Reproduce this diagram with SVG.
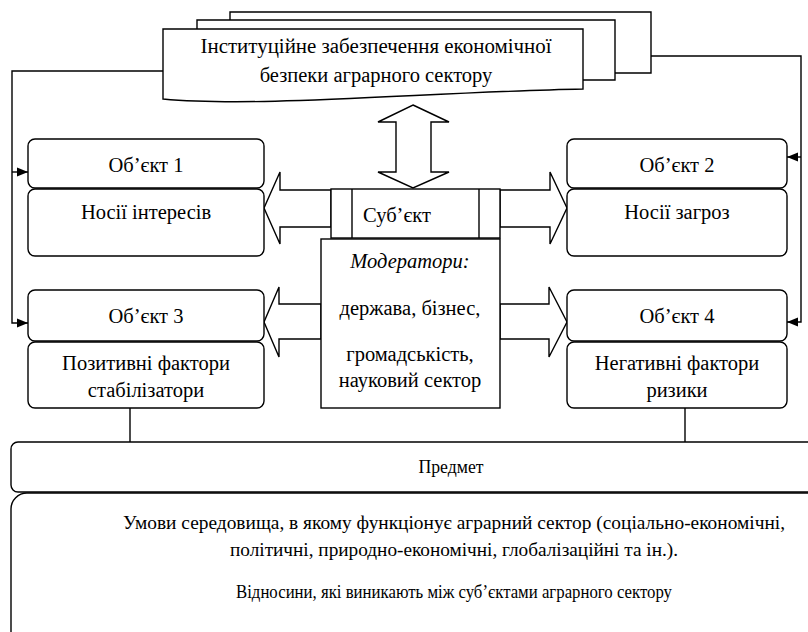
<svg xmlns="http://www.w3.org/2000/svg" width="808" height="632" viewBox="0 0 808 632">
<defs>
<marker id="ah" viewBox="0 0 10 10" refX="10" refY="5" markerWidth="11" markerHeight="11" markerUnits="userSpaceOnUse" orient="auto">
<path d="M0,1 L10,5 L0,9 Z" fill="#000"/>
</marker>
<style>
.s{fill:#fff;stroke:#000;stroke-width:1.4}
.l{fill:none;stroke:#000;stroke-width:1.4}
text{font-family:"Liberation Serif","Times New Roman",serif;font-size:20.5px;fill:#000;text-anchor:middle}
.c{font-size:19px}
</style>
</defs>
<rect width="808" height="632" fill="#fff"/>
<g id="connectors">
<polyline class="l" points="163,71 12,71 12,323 28,323" marker-end="url(#ah)"/>
<line class="l" x1="12" y1="172" x2="28" y2="172" marker-end="url(#ah)"/>
<polyline class="l" points="651,56 801,56 801,322 787,322" marker-end="url(#ah)"/>
<line class="l" x1="801" y1="157" x2="787" y2="157" marker-end="url(#ah)"/>
<line class="l" x1="130" y1="408" x2="130" y2="442"/>
<line class="l" x1="685" y1="408" x2="685" y2="442"/>
<polygon class="s" points="413,105 449,122 431,122 431,172 449,172 413,188 378,172 396,172 396,122 378,122"/>
<polygon class="s" points="331,190 280,190 280,172 264,208 280,244 280,227 331,227"/>
<polygon class="s" points="500,190 550,190 550,172 567,208 550,244 550,227 500,227"/>
<polygon class="s" points="321,304 279,304 279,287 264,322 279,357 279,339 321,339"/>
<polygon class="s" points="500,304 549,304 549,287 567,322 549,357 549,339 500,339"/>
</g>
<g id="institutional">
<path class="s" d="M230,73 V12 H651 V73 H615"/>
<path class="s" d="M197,29 V20 H615 V80 H583"/>
<path class="s" d="M163,29 H583 V89 C430,92 260,108 163,99 Z"/>
<text x="376" y="53" textLength="351" lengthAdjust="spacingAndGlyphs">Інституційне забезпечення економічної</text>
<text x="376" y="82">безпеки аграрного сектору</text>
</g>
<g id="object1">
<rect class="s" x="28" y="139" width="236" height="49" rx="7"/>
<text x="146" y="172">Об’єкт 1</text>
</g>
<g id="carriers-interests">
<rect class="s" x="28" y="189" width="236" height="67" rx="7"/>
<text x="146" y="219">Носії інтересів</text>
</g>
<g id="object2">
<rect class="s" x="567" y="139" width="220" height="49" rx="7"/>
<text x="677" y="172">Об’єкт 2</text>
</g>
<g id="carriers-threats">
<rect class="s" x="567" y="189" width="220" height="67" rx="7"/>
<text x="677" y="219">Носії загроз</text>
</g>
<g id="subject">
<rect class="s" x="331" y="189" width="169" height="49"/>
<line class="l" x1="352" y1="189" x2="352" y2="238"/>
<line class="l" x1="479" y1="189" x2="479" y2="238"/>
<text x="363" y="222" style="text-anchor:start">Суб’єкт</text>
</g>
<g id="moderators">
<rect class="s" x="321" y="239" width="179" height="169"/>
<text x="410" y="268" style="font-style:italic">Модератори:</text>
<text x="410" y="315">держава, бізнес,</text>
<text x="410" y="361">громадськість,</text>
<text x="410" y="387">науковий сектор</text>
</g>
<g id="object3">
<rect class="s" x="28" y="290" width="236" height="51" rx="7"/>
<text x="146" y="323">Об’єкт 3</text>
</g>
<g id="positive">
<rect class="s" x="28" y="342" width="236" height="66" rx="7"/>
<text x="146" y="370">Позитивні фактори</text>
<text x="146" y="397">стабілізатори</text>
</g>
<g id="object4">
<rect class="s" x="567" y="290" width="220" height="51" rx="7"/>
<text x="677" y="323">Об’єкт 4</text>
</g>
<g id="negative">
<rect class="s" x="567" y="342" width="220" height="66" rx="7"/>
<text x="677" y="370">Негативні фактори</text>
<text x="677" y="397">ризики</text>
</g>
<g id="subject-matter">
<rect class="s" x="11" y="442" width="885" height="50" rx="7"/>
<text class="c" x="451" y="473" textLength="65" lengthAdjust="spacingAndGlyphs">Предмет</text>
</g>
<g id="conditions">
<rect class="s" x="11" y="493" width="885" height="170" rx="16"/>
<text class="c" x="454" y="529" textLength="662" lengthAdjust="spacingAndGlyphs">Умови середовища, в якому функціонує аграрний сектор (соціально-економічні,</text>
<text class="c" x="454" y="556" textLength="448" lengthAdjust="spacingAndGlyphs">політичні, природно-економічні, глобалізаційні та ін.).</text>
<text class="c" x="454" y="598" textLength="436" lengthAdjust="spacingAndGlyphs">Відносини, які виникають між суб’єктами аграрного сектору</text>
</g>
</svg>
